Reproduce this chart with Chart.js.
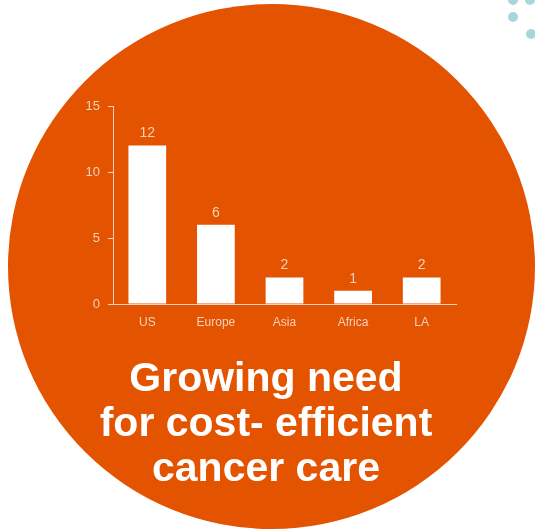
<!DOCTYPE html>
<html>
<head>
<meta charset="utf-8">
<script src="https://cdn.jsdelivr.net/npm/chart.js@4/dist/chart.umd.min.js"></script>
<style>
    body {
        margin: 0;
        width: 535px;
        height: 529px;
        overflow: hidden;
        background: #ffffff;
        position: relative;
        font-family: "Liberation Sans", Arial, sans-serif;
    }

    .circle {
        position: absolute;
        left: 8px;
        top: 4px;
        width: 527px;
        height: 525px;
        border-radius: 50%;
        background: #E35300;
    }

    .dot {
        position: absolute;
        width: 10px;
        height: 10px;
        border-radius: 50%;
        background: #A9D6DB;
    }

    #wrap {
        position: absolute;
        left: 0;
        top: 0;
        width: 535px;
        height: 529px;
    }

    .headline {
        position: absolute;
        left: 0;
        top: 355px;
        width: 532px;
        text-align: center;
        color: #ffffff;
        font-weight: bold;
        font-size: 41px;
        line-height: 45px;
    }
</style>
</head>
<body>

<div class="circle"></div>

<div class="dot" style="left:508px; top:-5px"></div>
<div class="dot" style="left:525px; top:-5px"></div>
<div class="dot" style="left:508px; top:12px"></div>
<div class="dot" style="left:526px; top:29px"></div>

<div id="wrap">
    <canvas id="regionChart"></canvas>
</div>

<div class="headline">
    Growing need<br>
    for cost- efficient<br>
    cancer care
</div>

<script>
const regions = ["US", "Europe", "Asia", "Africa", "LA"];

const counts = [12, 6, 2, 1, 2];

const yTicks = [0, 5, 10, 15];

const lightText = "#F6D2BD";

// VALORI SOPRA LE BARRE
const barValues = {
    id: "barValues",
    afterDatasetsDraw(chart) {

        const ctx = chart.ctx;

        const meta = chart.getDatasetMeta(0);

        ctx.save();
        ctx.fillStyle = lightText;
        ctx.font = "14px 'Liberation Sans', Arial, sans-serif";
        ctx.textAlign = "center";
        ctx.textBaseline = "bottom";

        meta.data.forEach((bar, i) => {
            ctx.fillText(counts[i], bar.x, bar.y - 5);
        });

        ctx.restore();
    }
};

const ctx = document.getElementById("regionChart");

new Chart(ctx, {

    type: "bar",

    data: {
        labels: regions,
        datasets: [{
            data: counts,
            backgroundColor: "#ffffff",
            borderWidth: 0,
            barPercentage: 0.55,
            categoryPercentage: 1
        }]
    },

    options: {
        responsive: true,
        maintainAspectRatio: false,
        animation: false,
        events: [],
        layout: {
            padding: { left: 73, right: 79, top: 106, bottom: 0 }
        },
        plugins: {
            legend: { display: false },
            tooltip: { enabled: false }
        },
        scales: {
            x: {
                grid: { display: false },
                border: { display: true, color: lightText, width: 1 },
                ticks: {
                    color: lightText,
                    padding: 3,
                    font: { family: "'Liberation Sans', Arial, sans-serif", size: 12 }
                },
                afterFit(scale) {
                    scale.height = 225;
                }
            },
            y: {
                min: 0,
                max: 15,
                afterBuildTicks(scale) {
                    scale.ticks = yTicks.map(v => ({ value: v }));
                },
                grid: {
                    drawOnChartArea: false,
                    drawTicks: true,
                    tickLength: 5,
                    color: lightText
                },
                border: { display: true, color: lightText, width: 1 },
                ticks: {
                    color: lightText,
                    padding: 8,
                    font: { family: "'Liberation Sans', Arial, sans-serif", size: 13 }
                },
                afterFit(scale) {
                    scale.width = 40;
                }
            }
        }
    },

    plugins: [barValues]
});
</script>
</body>
</html>
